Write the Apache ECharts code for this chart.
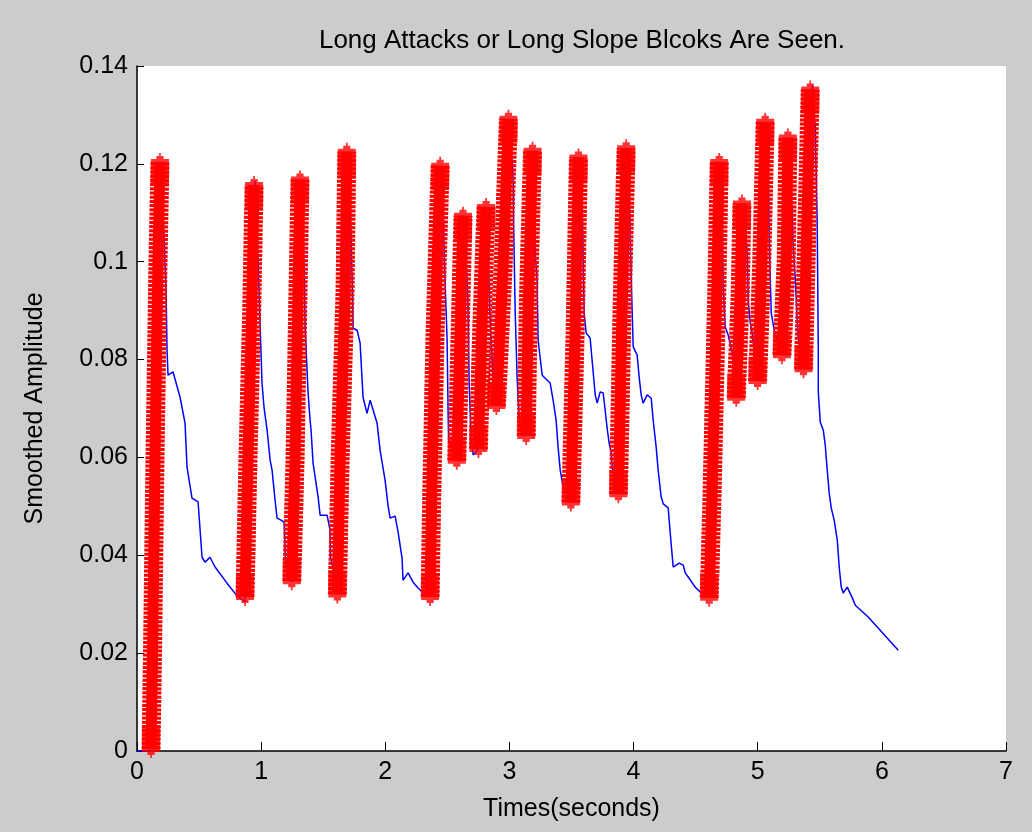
<!DOCTYPE html>
<html>
<head>
<meta charset="utf-8">
<title>Long Attacks</title>
<script src="https://cdn.jsdelivr.net/npm/echarts@6/dist/echarts.min.js"></script>
<style>
  html, body { margin: 0; padding: 0; background: #cccccc; }
  #chart { width: 1032px; height: 832px; }
</style>
</head>
<body>
<div id="chart"></div>
<script>
// smoothed amplitude envelope (blue line), [time s, amplitude]
var envelope = [
  [0, 0], [0.1, 0], [0.19, 0.119],
  [0.21, 0.1106], [0.234, 0.094], [0.242, 0.082], [0.25, 0.0768], [0.29, 0.0775], [0.347, 0.0723], [0.387, 0.067],
  [0.403, 0.058], [0.443, 0.0517], [0.492, 0.0509], [0.524, 0.0396], [0.548, 0.0386], [0.588, 0.0396], [0.629, 0.0376],
  [0.725, 0.0343], [0.806, 0.0317], [0.87, 0.0305],
  [0.95, 0.1165], [0.96, 0.113], [0.975, 0.1003], [0.991, 0.0875], [1.007, 0.0752], [1.023, 0.0703], [1.048, 0.0656],
  [1.072, 0.0595], [1.088, 0.0574], [1.112, 0.0513], [1.128, 0.0476], [1.16, 0.0472], [1.185, 0.0468], [1.195, 0.0396],
  [1.25, 0.0345],
  [1.325, 0.1168], [1.338, 0.11], [1.354, 0.0867], [1.378, 0.0732], [1.394, 0.0677], [1.402, 0.0656], [1.418, 0.0589],
  [1.459, 0.0519], [1.475, 0.0482], [1.531, 0.0482], [1.555, 0.0452], [1.558, 0.0396], [1.579, 0.0374], [1.614, 0.032],
  [1.70, 0.1225], [1.716, 0.114], [1.733, 0.0963], [1.741, 0.0864], [1.773, 0.086], [1.797, 0.0834], [1.821, 0.0723],
  [1.853, 0.069], [1.878, 0.0717], [1.902, 0.0697], [1.934, 0.067], [1.958, 0.0615], [1.998, 0.0554], [2.023, 0.05],
  [2.039, 0.0476], [2.079, 0.048], [2.103, 0.0448], [2.135, 0.0394], [2.143, 0.0349], [2.184, 0.0364], [2.224, 0.0345],
  [2.264, 0.0333], [2.297, 0.0325], [2.361, 0.0315],
  [2.452, 0.1196], [2.466, 0.116], [2.474, 0.1018], [2.498, 0.084], [2.506, 0.0693], [2.51, 0.0636], [2.576, 0.0593],
  [2.636, 0.1094], [2.651, 0.101], [2.667, 0.0907], [2.675, 0.0758], [2.691, 0.064], [2.708, 0.0605], [2.75, 0.0617],
  [2.822, 0.1112], [2.828, 0.1018], [2.845, 0.088], [2.87, 0.075], [2.895, 0.0705],
  [3.0, 0.1292], [3.03, 0.117], [3.034, 0.108], [3.038, 0.1018], [3.046, 0.0901], [3.062, 0.0764], [3.07, 0.0717],
  [3.086, 0.066], [3.135, 0.0644],
  [3.196, 0.1227], [3.199, 0.1167], [3.207, 0.1018], [3.223, 0.0963], [3.231, 0.084], [3.264, 0.0768], [3.288, 0.0762],
  [3.328, 0.0752], [3.352, 0.0717], [3.376, 0.0676], [3.392, 0.0621], [3.409, 0.0574], [3.433, 0.054], [3.495, 0.0508],
  [3.566, 0.1213], [3.586, 0.116], [3.588, 0.1106], [3.594, 0.1003], [3.602, 0.0895], [3.618, 0.0854], [3.65, 0.0844],
  [3.675, 0.0773], [3.691, 0.0728], [3.707, 0.0711], [3.731, 0.0734], [3.755, 0.0732], [3.771, 0.0697], [3.787, 0.066],
  [3.803, 0.063], [3.82, 0.0609], [3.828, 0.058], [3.878, 0.0525],
  [3.95, 0.1232], [3.965, 0.1194], [3.973, 0.1044], [3.989, 0.0895], [3.997, 0.0826], [4.029, 0.0809], [4.045, 0.0764],
  [4.061, 0.0728], [4.077, 0.0711], [4.11, 0.0728], [4.142, 0.0721], [4.158, 0.0676], [4.182, 0.0621], [4.198, 0.0574],
  [4.222, 0.052], [4.239, 0.0505], [4.279, 0.0497], [4.295, 0.0446], [4.319, 0.0376], [4.367, 0.0384], [4.4, 0.038],
  [4.416, 0.0364], [4.456, 0.035], [4.496, 0.0335], [4.537, 0.0325], [4.609, 0.0313],
  [4.70, 0.1204], [4.714, 0.1091], [4.722, 0.0948], [4.738, 0.0867], [4.762, 0.085], [4.795, 0.0813], [4.827, 0.0722],
  [4.883, 0.1119], [4.915, 0.1018], [4.923, 0.0922], [4.94, 0.0875], [4.956, 0.0854], [4.964, 0.0834], [4.999, 0.0756],
  [5.07, 0.1286], [5.085, 0.1202], [5.093, 0.1038], [5.109, 0.0895], [5.14, 0.085], [5.195, 0.0809],
  [5.253, 0.1254], [5.27, 0.116], [5.286, 0.103], [5.302, 0.0969], [5.318, 0.0881], [5.326, 0.0846], [5.369, 0.078],
  [5.44, 0.1361], [5.463, 0.1275], [5.479, 0.1085], [5.488, 0.082], [5.488, 0.0734], [5.504, 0.0672], [5.528, 0.0656],
  [5.544, 0.0625], [5.56, 0.0574], [5.576, 0.0527], [5.592, 0.0497], [5.616, 0.0472], [5.641, 0.0431], [5.657, 0.0374],
  [5.673, 0.0335], [5.689, 0.0323], [5.721, 0.0335], [5.737, 0.0335], [5.762, 0.0313], [5.786, 0.0298], [5.89, 0.0274],
  [6.132, 0.0206]
];

// detected long attacks (red '*' columns), bottom -> top
var attack1 = [[0.113, 0.0004], [0.125, 0.02], [0.145, 0.06], [0.169, 0.1], [0.185, 0.1204]];
var attack2 = [[0.87, 0.0315], [0.894, 0.06], [0.924, 0.09], [0.943, 0.1157]];
var attack3 = [[1.247, 0.0347], [1.273, 0.0595], [1.297, 0.094], [1.313, 0.1168]];
var attack4 = [[1.614, 0.032], [1.636, 0.0595], [1.676, 0.094], [1.69, 0.1225]];
var attack5 = [[2.361, 0.0315], [2.373, 0.0507], [2.401, 0.0854], [2.442, 0.1196]];
var attack6 = [[2.576, 0.0593], [2.603, 0.0854], [2.626, 0.1094]];
var attack7 = [[2.75, 0.0617], [2.776, 0.0854], [2.812, 0.1112]];
var attack8 = [[2.895, 0.0705], [2.949, 0.099], [2.992, 0.1292]];
var attack9 = [[3.135, 0.0644], [3.153, 0.0922], [3.186, 0.1227]];
var attack10 = [[3.495, 0.0508], [3.529, 0.0854], [3.556, 0.1213]];
var attack11 = [[3.878, 0.0525], [3.906, 0.0888], [3.94, 0.1232]];
var attack12 = [[4.609, 0.0313], [4.631, 0.0513], [4.67, 0.0936], [4.69, 0.1204]];
var attack13 = [[4.827, 0.0722], [4.859, 0.0936], [4.873, 0.1119]];
var attack14 = [[4.999, 0.0756], [5.033, 0.1003], [5.06, 0.1286]];
var attack15 = [[5.195, 0.0809], [5.23, 0.1003], [5.243, 0.1254]];
var attack16 = [[5.369, 0.078], [5.396, 0.1072], [5.423, 0.1352]];

var attacks = [attack1, attack2, attack3, attack4, attack5, attack6, attack7, attack8,
  attack9, attack10, attack11, attack12, attack13, attack14, attack15, attack16];

var FONT = 'Liberation Sans';
// solid marker pile at the ends of each column, with the '*' spike sticking out
var capTop = 'path://M9,0h2v6h-2zM6,3h8v3h-8zM0,6h20v27h-20z';
var capBottom = 'path://M0,0h20v27h-20zM6,27h8v3h-8zM9,27h2v6h-2z';

var series = [{
  name: 'envelope',
  type: 'line',
  data: envelope,
  showSymbol: false,
  lineStyle: { color: '#0000ff', width: 1.5 },
  z: 2
}];
var tops = [], bottoms = [];
for (var i = 0; i < attacks.length; i++) {
  tops.push(attacks[i][attacks[i].length - 1]);
  bottoms.push(attacks[i][0]);
  // comb look of the stacked '*' markers
  series.push({
    type: 'line',
    data: attacks[i],
    showSymbol: false,
    lineStyle: { color: '#ff0000', width: 19, type: [3, 1.2], cap: 'butt' },
    z: 3
  });
  series.push({
    type: 'line',
    data: attacks[i],
    showSymbol: false,
    lineStyle: { color: '#ff0000', width: 11 },
    z: 4
  });
}
series.push({
  type: 'scatter', data: tops, symbol: capTop, symbolSize: [18, 33],
  symbolOffset: [0, 7.5], itemStyle: { color: '#ff0000' }, z: 5
});
series.push({
  type: 'scatter', data: bottoms, symbol: capBottom, symbolSize: [18, 33],
  symbolOffset: [0, -7.5], itemStyle: { color: '#ff0000' }, z: 5
});

var chart = echarts.init(document.getElementById('chart'));
chart.setOption({
  animation: false,
  backgroundColor: '#cccccc',
  title: {
    text: 'Long Attacks or Long Slope Blcoks Are Seen.',
    left: 577,
    textAlign: 'center',
    top: 23,
    textStyle: { fontFamily: FONT, fontSize: 26, fontWeight: 'normal', color: '#000' }
  },
  grid: {
    left: 137, right: 26, top: 66, bottom: 81,
    show: true, backgroundColor: '#ffffff', borderWidth: 0
  },
  xAxis: {
    type: 'value', min: 0, max: 7, interval: 1,
    axisLine: { show: true, lineStyle: { color: '#000', width: 1.5 } },
    axisTick: { show: true, inside: true, length: 9, lineStyle: { color: '#000' } },
    axisLabel: { fontFamily: FONT, fontSize: 25, color: '#000', margin: 9 },
    splitLine: { show: false },
    name: 'Times(seconds)', nameLocation: 'middle', nameGap: 46,
    nameTextStyle: { fontFamily: FONT, fontSize: 25, color: '#000' }
  },
  yAxis: {
    type: 'value', min: 0, max: 0.14, interval: 0.02,
    axisLine: { show: true, lineStyle: { color: '#000', width: 1.5 } },
    axisTick: { show: true, inside: true, length: 7, lineStyle: { color: '#000' } },
    axisLabel: { fontFamily: FONT, fontSize: 25, color: '#000', margin: 9 },
    splitLine: { show: false },
    name: 'Smoothed Amplitude', nameLocation: 'middle', nameGap: 89, nameRotate: 90,
    nameTextStyle: { fontFamily: FONT, fontSize: 25, color: '#000' }
  },
  series: series
});
</script>
</body>
</html>
